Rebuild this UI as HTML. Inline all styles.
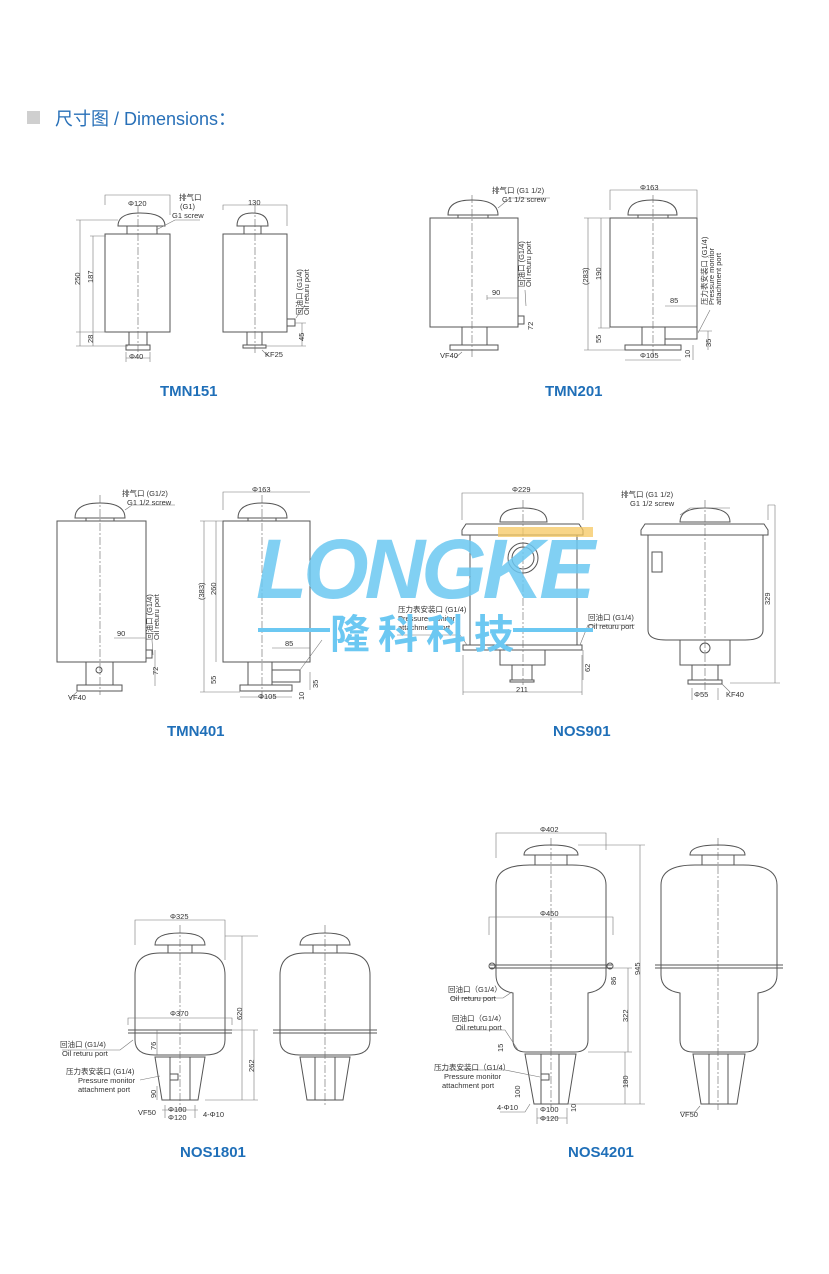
<!DOCTYPE html>
<html><head><meta charset="utf-8"><style>
body{margin:0;background:#fff;}
svg{display:block;font-family:"Liberation Sans","Noto Sans CJK SC",sans-serif;}
.l{fill:none;stroke:#555;stroke-width:1;}
.d{fill:none;stroke:#777;stroke-width:0.6;}
.c{fill:none;stroke:#666;stroke-width:0.6;stroke-dasharray:8 2 2 2;}
.t{font-size:7.5px;fill:#333;}
.h{font-size:15px;font-weight:bold;fill:#1f6fb8;}
.wm{fill:#6cc8f2;opacity:0.85;}
</style></head><body>
<svg width="829" height="1274" viewBox="0 0 829 1274">
<rect x="27" y="111" width="13" height="13" fill="#cfcfcf"/>
<text x="55" y="125" font-size="18" fill="#2870b8">尺寸图 / Dimensions：</text>

<!-- TMN151 front -->
<path class="l" d="M118 226 Q118 213 140 213 Q165 213 165 226 Z"/>
<rect class="l" x="127" y="226" width="30" height="8"/>
<rect class="l" x="105" y="234" width="65" height="98"/>
<rect class="l" x="129" y="332" width="18" height="13"/>
<rect class="l" x="126" y="345" width="24" height="5"/>
<line class="c" x1="138" y1="205" x2="138" y2="352"/>
<path class="d" d="M105 205V195H170V215 M80 220V346 M93 236V346 M76 220H118 M90 236H106 M76 332H106 M76 346H128 M126 352V362 M150 352V362 M126 358H150 M156 230L175 220H200"/>
<text class="t" x="128" y="206">Φ120</text>
<text class="t" x="179" y="200">排气口</text><text class="t" x="180" y="209">(G1)</text><text class="t" x="172" y="218">G1 screw</text>
<text class="t" transform="translate(80 285) rotate(-90)">250</text>
<text class="t" transform="translate(93 283) rotate(-90)">187</text>
<text class="t" transform="translate(93 343) rotate(-90)">28</text>
<text class="t" x="129" y="359">Φ40</text>
<!-- TMN151 side -->
<path class="l" d="M237 226 Q237 213 252 213 Q268 213 268 226 Z"/>
<rect class="l" x="244" y="226" width="17" height="8"/>
<rect class="l" x="223" y="234" width="64" height="98"/>
<rect class="l" x="247" y="332" width="15" height="13"/>
<rect class="l" x="243" y="345" width="23" height="3"/>
<rect class="l" x="287" y="319" width="8" height="7"/>
<line class="c" x1="255" y1="205" x2="255" y2="355"/>
<path class="d" d="M223 210V205H287V226 M302 323V346 M295 323H306 M266 346H306 M296 318L305 305 M262 350L268 356"/>
<text class="t" x="248" y="205">130</text>
<text class="t" transform="translate(302 315) rotate(-90)">回油口 (G1/4)</text>
<text class="t" transform="translate(309 315) rotate(-90)">Oil returu port</text>
<text class="t" transform="translate(304 341) rotate(-90)">45</text>
<text class="t" x="265" y="357">KF25</text>
<text class="h" x="160" y="396">TMN151</text>

<!-- TMN201 front -->
<path class="l" d="M448 215 Q448 200 472 200 Q498 200 498 215 Z"/>
<rect class="l" x="458" y="215" width="30" height="3"/>
<rect class="l" x="430" y="218" width="88" height="109"/>
<rect class="l" x="462" y="327" width="25" height="18"/>
<rect class="l" x="450" y="345" width="48" height="5"/>
<rect class="l" x="518" y="316" width="6" height="8"/>
<line class="c" x1="472" y1="195" x2="472" y2="358"/>
<path class="d" d="M487 298H518 M487 295V300 M498 208L510 198H550 M526 306L525 290 M462 352L455 358"/>
<text class="t" x="492" y="193">排气口 (G1 1/2)</text><text class="t" x="502" y="202">G1 1/2 screw</text>
<text class="t" x="492" y="295">90</text>
<text class="t" transform="translate(524 287) rotate(-90)">回油口 (G1/4)</text>
<text class="t" transform="translate(531 287) rotate(-90)">Oil returu port</text>
<text class="t" transform="translate(533 330) rotate(-90)">72</text>
<text class="t" x="440" y="358">VF40</text>
<!-- TMN201 side -->
<path class="l" d="M628 215 Q628 200 652 200 Q677 200 677 215 Z"/>
<rect class="l" x="638" y="215" width="30" height="3"/>
<rect class="l" x="610" y="218" width="87" height="109"/>
<rect class="l" x="642" y="327" width="23" height="18"/>
<rect class="l" x="625" y="345" width="56" height="5"/>
<rect class="l" x="665" y="327" width="32" height="12"/>
<line class="c" x1="653" y1="195" x2="653" y2="358"/>
<path class="d" d="M610 210V190H697V218 M588 218V350 M601 218V328 M598 328H610 M584 218H610 M584 350H625 M665 306H697 M708 331V350 M697 331H712 M698 333L710 310 M625 360H681 M693 345V360"/>
<text class="t" x="640" y="190">Φ163</text>
<text class="t" transform="translate(588 285) rotate(-90)">(283)</text>
<text class="t" transform="translate(601 280) rotate(-90)">190</text>
<text class="t" transform="translate(601 343) rotate(-90)">55</text>
<text class="t" x="670" y="303">85</text>
<text class="t" transform="translate(707 305) rotate(-90)">压力表安装口 (G1/4)</text>
<text class="t" transform="translate(714 305) rotate(-90)">Pressure monitor</text>
<text class="t" transform="translate(721 305) rotate(-90)">attachment port</text>
<text class="t" transform="translate(711 347) rotate(-90)">35</text>
<text class="t" x="640" y="358">Φ105</text>
<text class="t" transform="translate(690 358) rotate(-90)">10</text>
<text class="h" x="545" y="396">TMN201</text>

<!-- TMN401 front -->
<path class="l" d="M75 518 Q75 503 100 503 Q125 503 125 518 Z"/>
<rect class="l" x="86" y="518" width="28" height="3"/>
<rect class="l" x="57" y="521" width="89" height="141"/>
<rect class="l" x="86" y="662" width="27" height="23"/>
<rect class="l" x="77" y="685" width="45" height="6"/>
<circle class="l" cx="99" cy="670" r="3"/>
<rect class="l" x="146" y="650" width="6" height="8"/>
<line class="c" x1="100" y1="495" x2="100" y2="695"/>
<path class="d" d="M114 638H146 M125 510L132 505H175 M153 655L152 640 M77 692L70 698 M155 650V686"/>
<text class="t" x="122" y="496">排气口 (G1/2)</text><text class="t" x="127" y="505">G1 1/2 screw</text>
<text class="t" x="117" y="636">90</text>
<text class="t" transform="translate(152 640) rotate(-90)">回油口 (G1/4)</text>
<text class="t" transform="translate(159 640) rotate(-90)">Oil returu port</text>
<text class="t" transform="translate(158 675) rotate(-90)">72</text>
<text class="t" x="68" y="700">VF40</text>
<!-- TMN401 side -->
<path class="l" d="M238 518 Q238 503 262 503 Q287 503 287 518 Z"/>
<rect class="l" x="248" y="518" width="28" height="3"/>
<rect class="l" x="223" y="521" width="87" height="141"/>
<rect class="l" x="248" y="662" width="24" height="23"/>
<rect class="l" x="272" y="670" width="28" height="12"/>
<rect class="l" x="240" y="685" width="52" height="6"/>
<line class="c" x1="262" y1="495" x2="262" y2="700"/>
<path class="d" d="M223 510V492H310 M204 521V692 M216 521V662 M200 521H223 M200 692H240 M272 648H310 M310 672V690 M300 670L322 640 M240 697H292"/>
<text class="t" x="252" y="492">Φ163</text>
<text class="t" transform="translate(204 600) rotate(-90)">(383)</text>
<text class="t" transform="translate(216 595) rotate(-90)">260</text>
<text class="t" transform="translate(216 684) rotate(-90)">55</text>
<text class="t" x="285" y="646">85</text>
<text class="t" x="258" y="699">Φ105</text>
<text class="t" transform="translate(318 688) rotate(-90)">35</text>
<text class="t" transform="translate(304 700) rotate(-90)">10</text>
<text class="h" x="167" y="736">TMN401</text>

<!-- NOS901 front -->
<path class="l" d="M466 524H579L583 530V535H462V530Z"/>
<path class="l" d="M500 522Q500 508 523 508Q547 508 547 522Z"/>
<rect class="l" x="470" y="535" width="107" height="110"/>
<circle class="l" cx="523" cy="558" r="15"/><circle class="l" cx="523" cy="558" r="11"/>
<rect class="l" x="463" y="645" width="119" height="5"/>
<rect class="l" x="500" y="650" width="45" height="15"/>
<rect class="l" x="512" y="665" width="20" height="15"/>
<rect class="l" x="510" y="680" width="24" height="2"/>
<line class="c" x1="523" y1="500" x2="523" y2="685"/>
<path class="d" d="M462 520V493H583V520 M583 650V680 M463 655V695 M582 655V695 M463 692H582 M467 645L460 635H397 M580 645L588 625H635"/>
<text class="t" x="512" y="492">Φ229</text>
<text class="t" x="398" y="612">压力表安装口 (G1/4)</text>
<text class="t" x="398" y="621">Pressure monitor</text>
<text class="t" x="398" y="630">attachment port</text>
<text class="t" x="588" y="620">回油口 (G1/4)</text>
<text class="t" x="588" y="629">Oil returu port</text>
<text class="t" transform="translate(590 672) rotate(-90)">62</text>
<text class="t" x="516" y="692">211</text>
<!-- NOS901 side -->
<path class="l" d="M645 524H764L768 530V535H641V530Z"/>
<path class="l" d="M680 522Q680 508 705 508Q730 508 730 522Z"/>
<path class="l" d="M648 535H763V630Q763 640 745 640H666Q648 640 648 630Z"/>
<rect class="l" x="652" y="552" width="10" height="20"/>
<rect class="l" x="680" y="640" width="50" height="25"/>
<circle class="l" cx="705" cy="648" r="5"/>
<rect class="l" x="692" y="665" width="26" height="15"/>
<rect class="l" x="688" y="680" width="34" height="4"/>
<line class="c" x1="705" y1="500" x2="705" y2="690"/>
<path class="d" d="M768 520V505H775 M775 505V683 M730 683H780 M692 688V700 M718 688V700 M722 684L730 692 M680 515L690 508H730"/>
<text class="t" x="621" y="497">排气口 (G1 1/2)</text><text class="t" x="630" y="506">G1 1/2 screw</text>
<text class="t" transform="translate(770 605) rotate(-90)">329</text>
<text class="t" x="694" y="697">Φ55</text><text class="t" x="726" y="697">KF40</text>
<text class="h" x="553" y="736">NOS901</text>

<!-- watermark -->
<g class="wm">
<text x="256" y="598" font-size="84" font-weight="bold" letter-spacing="-4" font-style="italic">LONGKE</text>
</g>
<rect x="498" y="527" width="95" height="10" fill="#f6c760" opacity="0.75"/>
<rect x="258" y="628" width="72" height="4" fill="#6cc8f2"/>
<rect x="513" y="628" width="80" height="4" fill="#6cc8f2"/>
<text x="330" y="648" font-size="40" font-weight="bold" fill="#6cc8f2" letter-spacing="8">隆科科技</text>

<!-- NOS1801 front -->
<path class="l" d="M155 945Q155 933 180 933Q205 933 205 945Z"/>
<rect class="l" x="168" y="945" width="24" height="8"/>
<path class="l" d="M135 975Q135 953 160 953H200Q225 953 225 975V1040Q225 1055 205 1055H155Q135 1055 135 1040Z"/>
<line class="l" x1="128" y1="1030" x2="232" y2="1030"/><line class="l" x1="128" y1="1033" x2="232" y2="1033"/>
<path class="l" d="M155 1057H205L198 1100H162Z"/>
<line class="l" x1="170" y1="1057" x2="170" y2="1100"/><line class="l" x1="190" y1="1057" x2="190" y2="1100"/>
<rect class="l" x="170" y="1074" width="8" height="6"/>
<line class="c" x1="180" y1="925" x2="180" y2="1110"/>
<path class="d" d="M135 945V920H225V960 M128 1025V1018H232V1025 M242 936V1100 M254 1030V1100 M225 936H258 M232 1030H258 M205 1100H258 M133 1040L120 1050H62 M160 1076L140 1080 M157 1030V1055 M157 1086V1100 M165 1105V1118 M195 1105V1118 M162 1110H198"/>
<text class="t" x="170" y="919">Φ325</text>
<text class="t" x="170" y="1016">Φ370</text>
<text class="t" transform="translate(242 1020) rotate(-90)">620</text>
<text class="t" transform="translate(254 1072) rotate(-90)">262</text>
<text class="t" transform="translate(156 1050) rotate(-90)">76</text>
<text class="t" transform="translate(156 1098) rotate(-90)">90</text>
<text class="t" x="60" y="1047">回油口 (G1/4)</text><text class="t" x="62" y="1056">Oil returu port</text>
<text class="t" x="66" y="1074">压力表安装口 (G1/4)</text><text class="t" x="78" y="1083">Pressure monitor</text><text class="t" x="78" y="1092">attachment port</text>
<text class="t" x="138" y="1115">VF50</text><text class="t" x="168" y="1112">Φ100</text><text class="t" x="168" y="1120">Φ120</text><text class="t" x="203" y="1117">4-Φ10</text>
<!-- NOS1801 side -->
<path class="l" d="M300 945Q300 933 325 933Q350 933 350 945Z"/>
<rect class="l" x="313" y="945" width="24" height="8"/>
<path class="l" d="M280 975Q280 953 305 953H345Q370 953 370 975V1040Q370 1055 350 1055H300Q280 1055 280 1040Z"/>
<line class="l" x1="273" y1="1030" x2="377" y2="1030"/><line class="l" x1="273" y1="1033" x2="377" y2="1033"/>
<path class="l" d="M300 1057H350L343 1100H307Z"/>
<line class="l" x1="315" y1="1057" x2="315" y2="1100"/><line class="l" x1="335" y1="1057" x2="335" y2="1100"/>
<line class="c" x1="325" y1="925" x2="325" y2="1105"/>
<text class="h" x="180" y="1157">NOS1801</text>

<!-- NOS4201 front -->
<path class="l" d="M524 855Q524 845 551 845Q578 845 578 855Z"/>
<rect class="l" x="535" y="855" width="32" height="10"/>
<path class="l" d="M496 885Q496 865 530 865H572Q606 865 606 885V975Q606 990 588 993V1040Q588 1052 575 1052H526Q513 1052 513 1040V993Q496 990 496 975Z"/>
<line class="l" x1="490" y1="965" x2="612" y2="965"/><line class="l" x1="490" y1="968" x2="612" y2="968"/>
<circle class="l" cx="492" cy="966" r="3"/><circle class="l" cx="610" cy="966" r="3"/>
<path class="l" d="M525 1054H576L568 1104H534Z"/>
<line class="l" x1="541" y1="1054" x2="541" y2="1104"/><line class="l" x1="559" y1="1054" x2="559" y2="1104"/>
<rect class="l" x="541" y="1074" width="8" height="6"/>
<line class="c" x1="551" y1="838" x2="551" y2="1110"/>
<path class="d" d="M496 858V833H606V850 M489 935V917H613V935 M640 845V1104 M628 968V1052 M625 1052V1104 M578 845H645 M612 968H632 M588 1052H632 M568 1104H645 M512 992L503 998H450 M518 1050L505 1030H455 M540 1077L505 1070H440 M530 1104L525 1112H500 M537 1108V1124 M567 1108V1124 M537 1118H567"/>
<text class="t" x="540" y="832">Φ402</text>
<text class="t" x="540" y="916">Φ450</text>
<text class="t" transform="translate(640 975) rotate(-90)">945</text>
<text class="t" transform="translate(616 985) rotate(-90)">86</text>
<text class="t" transform="translate(628 1022) rotate(-90)">322</text>
<text class="t" transform="translate(628 1088) rotate(-90)">180</text>
<text class="t" transform="translate(503 1052) rotate(-90)">15</text>
<text class="t" transform="translate(520 1098) rotate(-90)">100</text>
<text class="t" transform="translate(576 1112) rotate(-90)">10</text>
<text class="t" x="448" y="992">回油口（G1/4）</text><text class="t" x="450" y="1001">Oil returu port</text>
<text class="t" x="452" y="1021">回油口（G1/4）</text><text class="t" x="456" y="1030">Oil returu port</text>
<text class="t" x="434" y="1070">压力表安装口（G1/4）</text><text class="t" x="444" y="1079">Pressure monitor</text><text class="t" x="442" y="1088">attachment port</text>
<text class="t" x="497" y="1110">4-Φ10</text><text class="t" x="540" y="1112">Φ100</text><text class="t" x="540" y="1121">Φ120</text>
<!-- NOS4201 side -->
<path class="l" d="M690 855Q690 845 718 845Q745 845 745 855Z"/>
<rect class="l" x="702" y="855" width="32" height="10"/>
<path class="l" d="M661 885Q661 865 695 865H743Q777 865 777 885V975Q777 990 758 993V1040Q758 1052 745 1052H693Q680 1052 680 1040V993Q661 990 661 975Z"/>
<line class="l" x1="655" y1="965" x2="783" y2="965"/><line class="l" x1="655" y1="968" x2="783" y2="968"/>
<path class="l" d="M693 1054H745L737 1104H701Z"/>
<line class="l" x1="709" y1="1054" x2="709" y2="1104"/><line class="l" x1="728" y1="1054" x2="728" y2="1104"/>
<line class="c" x1="718" y1="838" x2="718" y2="1110"/>
<path class="d" d="M700 1106L695 1112H680"/>
<text class="t" x="680" y="1117">VF50</text>
<text class="h" x="568" y="1157">NOS4201</text>
</svg>
</body></html>
